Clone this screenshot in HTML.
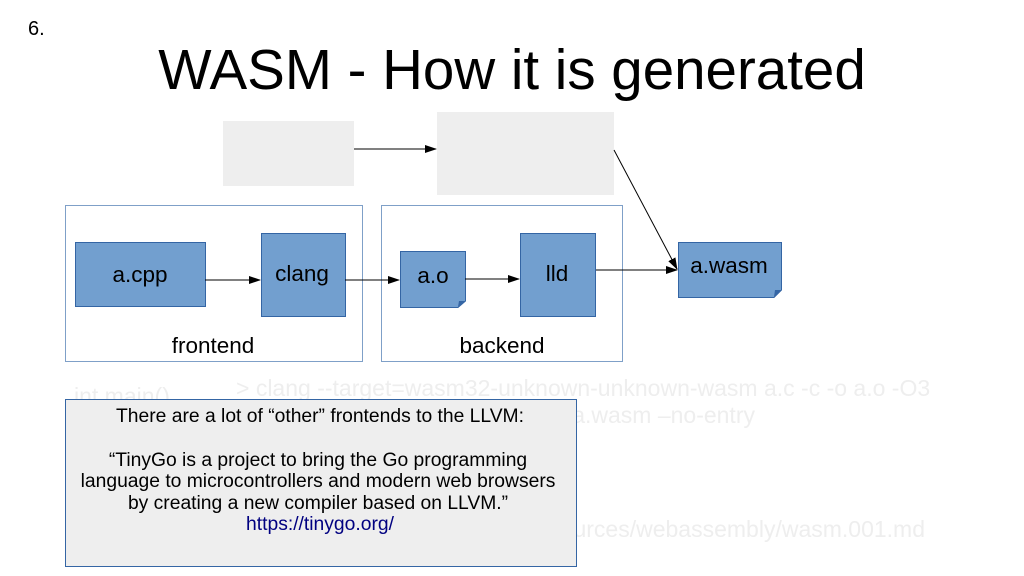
<!DOCTYPE html>
<html><head><meta charset="utf-8"><style>html,body{margin:0;padding:0;background:#fff}svg{display:block}</style></head>
<body>
<svg width="1024" height="576" viewBox="0 0 1024 576" xmlns="http://www.w3.org/2000/svg" font-family="Liberation Sans, sans-serif">
<defs><marker id="a" markerWidth="12" markerHeight="8" refX="11" refY="4" orient="auto" markerUnits="userSpaceOnUse"><path d="M0,0 L12,4 L0,8 z" fill="#000"/></marker></defs>
<text x="28" y="35" font-size="20">6.</text>
<text x="512" y="89" font-size="56.5" text-anchor="middle">WASM - How it is generated</text>
<rect x="223" y="121" width="131" height="65" fill="#eeeeee"/>
<rect x="437" y="112" width="177" height="83" fill="#eeeeee"/>
<line x1="354" y1="149" x2="436" y2="149" stroke="#000" marker-end="url(#a)"/>
<line x1="614" y1="150" x2="677" y2="269" stroke="#000" marker-end="url(#a)"/>
<rect x="65.5" y="205.5" width="297" height="156" fill="none" stroke="#7fa0c8"/>
<rect x="381.5" y="205.5" width="241" height="156" fill="none" stroke="#7fa0c8"/>
<g fill="#729fcf" stroke="#3465a4">
<rect x="75.5" y="242.5" width="130" height="64"/>
<rect x="261.5" y="233.5" width="84" height="83"/>
<path d="M400.5,251.5 H465.5 V301 L458,307.5 H400.5 z"/>
<rect x="520.5" y="233.5" width="75" height="83"/>
<path d="M678.5,242.5 H781.5 V290 L774,297.5 H678.5 z"/>
</g>
<g fill="#3465a4"><path d="M465,301 L458,307 L459,301 z"/><path d="M781,290 L774,297 L775,290 z"/></g>
<line x1="205" y1="280" x2="260" y2="280" stroke="#000" marker-end="url(#a)"/>
<line x1="345" y1="280" x2="399" y2="280" stroke="#000" marker-end="url(#a)"/>
<line x1="465" y1="279" x2="519" y2="279" stroke="#000" marker-end="url(#a)"/>
<line x1="596" y1="270" x2="677" y2="270" stroke="#000" marker-end="url(#a)"/>
<g font-size="22.5" text-anchor="middle">
<text x="140" y="282">a.cpp</text>
<text x="302" y="281">clang</text>
<text x="433" y="283">a.o</text>
<text x="557" y="281">lld</text>
<text x="729" y="273">a.wasm</text>
<text x="213" y="353">frontend</text>
<text x="502" y="353">backend</text>
</g>
<g fill="#eeeeee" font-size="23">
<text x="74" y="404">int main()</text>
<text x="236" y="396">&gt; clang --target=wasm32-unknown-unknown-wasm a.c -c -o a.o -O3</text>
<text x="755" y="423" text-anchor="end">a.wasm –no-entry</text>
<text x="925" y="537" text-anchor="end">urces/webassembly/wasm.001.md</text>
</g>
<rect x="65.5" y="399.5" width="511" height="167" fill="#eeeeee" stroke="#3465a4"/>
<g font-size="19.3" text-anchor="middle">
<text x="320" y="422">There are a lot of “other” frontends to the LLVM:</text>
<text x="318" y="466">“TinyGo is a project to bring the Go programming</text>
<text x="318" y="487">language to microcontrollers and  modern web browsers</text>
<text x="318" y="509">by creating a new compiler based on LLVM.”</text>
<text x="320" y="530" fill="#000080">https://tinygo.org/</text>
</g>
</svg>
</body></html>
